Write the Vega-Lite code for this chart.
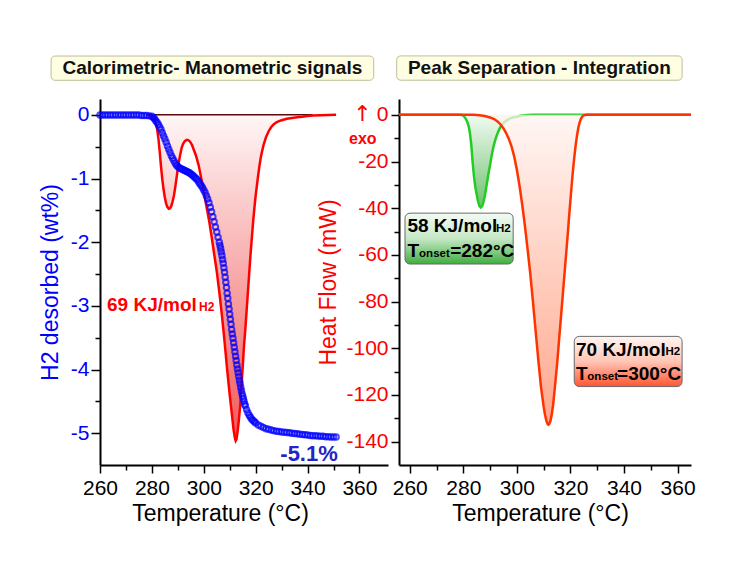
{
  "$schema": "https://vega.github.io/schema/vega-lite/v6.json",
  "background": "white",
  "padding": {"left": 39, "top": 55, "right": 5, "bottom": 5},
  "config": {
    "font": "Liberation Sans",
    "view": {"stroke": null},
    "axis": {
      "grid": false,
      "domainColor": "black",
      "domainWidth": 2,
      "tickColor": "black",
      "tickWidth": 1.5,
      "labelFont": "Liberation Sans",
      "labelFontSize": 21,
      "titleFont": "Liberation Sans",
      "titleFontSize": 23,
      "titleFontWeight": "normal",
      "labelOverlap": false,
      "labelFlush": false
    }
  },
  "datasets": {
    "h2": [
      {"T": 260, "wt": 0}, {"T": 261, "wt": 0}, {"T": 262, "wt": 0}, {"T": 263, "wt": 0}, {"T": 264, "wt": 0},
      {"T": 265, "wt": 0}, {"T": 266, "wt": 0}, {"T": 267, "wt": 0}, {"T": 268, "wt": 0}, {"T": 269, "wt": 0},
      {"T": 270, "wt": 0}, {"T": 271, "wt": 0}, {"T": 272, "wt": 0}, {"T": 273, "wt": 0}, {"T": 274, "wt": 0},
      {"T": 275, "wt": 0}, {"T": 276, "wt": -0.01}, {"T": 277, "wt": -0.01}, {"T": 278, "wt": -0.01}, {"T": 279, "wt": -0.015},
      {"T": 280, "wt": -0.02}, {"T": 280.5, "wt": -0.04}, {"T": 281, "wt": -0.06}, {"T": 281.5, "wt": -0.09}, {"T": 282, "wt": -0.12},
      {"T": 282.5, "wt": -0.15}, {"T": 283, "wt": -0.19}, {"T": 283.5, "wt": -0.23}, {"T": 284, "wt": -0.28}, {"T": 284.5, "wt": -0.33},
      {"T": 285, "wt": -0.38}, {"T": 285.5, "wt": -0.43}, {"T": 286, "wt": -0.49}, {"T": 286.5, "wt": -0.54}, {"T": 287, "wt": -0.59},
      {"T": 287.5, "wt": -0.64}, {"T": 288, "wt": -0.68}, {"T": 288.5, "wt": -0.72}, {"T": 289, "wt": -0.76}, {"T": 289.5, "wt": -0.79},
      {"T": 290, "wt": -0.81}, {"T": 290.5, "wt": -0.83}, {"T": 291, "wt": -0.84}, {"T": 291.5, "wt": -0.85}, {"T": 292, "wt": -0.86},
      {"T": 292.5, "wt": -0.87}, {"T": 293, "wt": -0.88}, {"T": 293.5, "wt": -0.89}, {"T": 294, "wt": -0.9}, {"T": 294.5, "wt": -0.91},
      {"T": 295, "wt": -0.93}, {"T": 295.5, "wt": -0.94}, {"T": 296, "wt": -0.96}, {"T": 296.5, "wt": -0.98}, {"T": 297, "wt": -1.0},
      {"T": 297.5, "wt": -1.02}, {"T": 298, "wt": -1.05}, {"T": 298.5, "wt": -1.08}, {"T": 299, "wt": -1.11}, {"T": 299.5, "wt": -1.14},
      {"T": 300, "wt": -1.18}, {"T": 300.5, "wt": -1.22}, {"T": 301, "wt": -1.27}, {"T": 301.5, "wt": -1.32}, {"T": 302, "wt": -1.38},
      {"T": 302.5, "wt": -1.45}, {"T": 303, "wt": -1.52}, {"T": 303.5, "wt": -1.6}, {"T": 304, "wt": -1.68}, {"T": 304.5, "wt": -1.76},
      {"T": 305, "wt": -1.84}, {"T": 305.5, "wt": -1.92}, {"T": 306, "wt": -2.0}, {"T": 306.25, "wt": -2.05}, {"T": 306.5, "wt": -2.1},
      {"T": 306.75, "wt": -2.155}, {"T": 307, "wt": -2.21}, {"T": 307.25, "wt": -2.27}, {"T": 307.5, "wt": -2.33}, {"T": 307.75, "wt": -2.4},
      {"T": 308, "wt": -2.47}, {"T": 308.25, "wt": -2.55}, {"T": 308.5, "wt": -2.63}, {"T": 308.75, "wt": -2.71}, {"T": 309, "wt": -2.8},
      {"T": 309.25, "wt": -2.88}, {"T": 309.5, "wt": -2.97}, {"T": 309.75, "wt": -3.05}, {"T": 310, "wt": -3.13}, {"T": 310.25, "wt": -3.21},
      {"T": 310.5, "wt": -3.29}, {"T": 310.75, "wt": -3.37}, {"T": 311, "wt": -3.44}, {"T": 311.25, "wt": -3.51}, {"T": 311.5, "wt": -3.58},
      {"T": 311.75, "wt": -3.65}, {"T": 312, "wt": -3.72}, {"T": 312.25, "wt": -3.79}, {"T": 312.5, "wt": -3.86}, {"T": 312.75, "wt": -3.93},
      {"T": 313, "wt": -3.99}, {"T": 313.25, "wt": -4.05}, {"T": 313.5, "wt": -4.11}, {"T": 313.75, "wt": -4.17}, {"T": 314, "wt": -4.22},
      {"T": 314.25, "wt": -4.28}, {"T": 314.5, "wt": -4.33}, {"T": 314.75, "wt": -4.38}, {"T": 315, "wt": -4.42}, {"T": 315.25, "wt": -4.46},
      {"T": 315.5, "wt": -4.5}, {"T": 315.75, "wt": -4.54}, {"T": 316, "wt": -4.57}, {"T": 316.5, "wt": -4.63}, {"T": 317, "wt": -4.68},
      {"T": 317.5, "wt": -4.72}, {"T": 318, "wt": -4.75}, {"T": 318.5, "wt": -4.78}, {"T": 319, "wt": -4.8}, {"T": 319.5, "wt": -4.82},
      {"T": 320, "wt": -4.84}, {"T": 321, "wt": -4.87}, {"T": 322, "wt": -4.89}, {"T": 323, "wt": -4.91}, {"T": 324, "wt": -4.93},
      {"T": 325, "wt": -4.94}, {"T": 326, "wt": -4.95}, {"T": 327, "wt": -4.96}, {"T": 328, "wt": -4.97}, {"T": 329, "wt": -4.975},
      {"T": 330, "wt": -4.98}, {"T": 331, "wt": -4.985}, {"T": 332, "wt": -4.99}, {"T": 333, "wt": -4.995}, {"T": 334, "wt": -5.0},
      {"T": 335, "wt": -5.005}, {"T": 336, "wt": -5.01}, {"T": 337, "wt": -5.015}, {"T": 338, "wt": -5.02}, {"T": 339, "wt": -5.025},
      {"T": 340, "wt": -5.03}, {"T": 341, "wt": -5.035}, {"T": 342, "wt": -5.04}, {"T": 343, "wt": -5.04}, {"T": 344, "wt": -5.045},
      {"T": 345, "wt": -5.05}, {"T": 346, "wt": -5.05}, {"T": 347, "wt": -5.055}, {"T": 348, "wt": -5.055}, {"T": 349, "wt": -5.06},
      {"T": 350, "wt": -5.06}, {"T": 351, "wt": -5.06}
    ],
    "dscLeft": [
      {"T": 278, "mW": 0}, {"T": 280, "mW": -0.3}, {"T": 281, "mW": -1.5}, {"T": 282, "mW": -6}, {"T": 282.5, "mW": -10},
      {"T": 283, "mW": -15.5}, {"T": 283.5, "mW": -22}, {"T": 284, "mW": -27.5}, {"T": 284.5, "mW": -32}, {"T": 285, "mW": -35.5},
      {"T": 285.5, "mW": -38}, {"T": 286, "mW": -39.5}, {"T": 286.5, "mW": -40.2}, {"T": 287, "mW": -40}, {"T": 287.5, "mW": -39},
      {"T": 288, "mW": -37}, {"T": 288.5, "mW": -34.5}, {"T": 289, "mW": -31}, {"T": 289.5, "mW": -27}, {"T": 290, "mW": -23},
      {"T": 290.5, "mW": -19.5}, {"T": 291, "mW": -16.5}, {"T": 291.5, "mW": -14}, {"T": 292, "mW": -12.5}, {"T": 292.5, "mW": -11.5},
      {"T": 293, "mW": -11}, {"T": 293.5, "mW": -10.7}, {"T": 294, "mW": -10.8}, {"T": 294.5, "mW": -11.2}, {"T": 295, "mW": -12},
      {"T": 295.5, "mW": -13}, {"T": 296, "mW": -14.5}, {"T": 297, "mW": -17.5}, {"T": 298, "mW": -21.5}, {"T": 299, "mW": -27},
      {"T": 300, "mW": -33}, {"T": 301, "mW": -39}, {"T": 302, "mW": -45}, {"T": 303, "mW": -52}, {"T": 304, "mW": -59.6},
      {"T": 305, "mW": -67}, {"T": 306, "mW": -76}, {"T": 307, "mW": -86}, {"T": 308, "mW": -97}, {"T": 309, "mW": -109},
      {"T": 310, "mW": -120}, {"T": 311, "mW": -130}, {"T": 311.5, "mW": -135}, {"T": 312, "mW": -138.5}, {"T": 312.3, "mW": -139.6},
      {"T": 312.6, "mW": -139}, {"T": 313, "mW": -136}, {"T": 313.5, "mW": -131}, {"T": 314, "mW": -125}, {"T": 314.5, "mW": -117},
      {"T": 315, "mW": -108}, {"T": 315.5, "mW": -99}, {"T": 316, "mW": -92}, {"T": 316.5, "mW": -84}, {"T": 317, "mW": -76},
      {"T": 317.5, "mW": -68}, {"T": 318, "mW": -60}, {"T": 318.5, "mW": -53}, {"T": 319, "mW": -46}, {"T": 319.5, "mW": -40},
      {"T": 320, "mW": -34.5}, {"T": 320.5, "mW": -30}, {"T": 321, "mW": -25.5}, {"T": 321.5, "mW": -21.5}, {"T": 322, "mW": -18},
      {"T": 322.5, "mW": -15.5}, {"T": 323, "mW": -13}, {"T": 324, "mW": -9.5}, {"T": 325, "mW": -7}, {"T": 326, "mW": -5.2},
      {"T": 327, "mW": -4}, {"T": 328, "mW": -3.2}, {"T": 329, "mW": -2.7}, {"T": 330, "mW": -2.3}, {"T": 332, "mW": -1.7},
      {"T": 334, "mW": -1.3}, {"T": 336, "mW": -1}, {"T": 338, "mW": -0.8}, {"T": 340, "mW": -0.5}, {"T": 342, "mW": -0.3},
      {"T": 345, "mW": -0.15}, {"T": 351, "mW": 0}
    ],
    "green": [
      {"T": 256, "mW": 0}, {"T": 279, "mW": 0}, {"T": 280, "mW": -0.3}, {"T": 281, "mW": -1.8}, {"T": 281.5, "mW": -3},
      {"T": 282, "mW": -4.8}, {"T": 282.5, "mW": -8}, {"T": 283, "mW": -13}, {"T": 283.5, "mW": -20.5}, {"T": 284, "mW": -26.5},
      {"T": 284.5, "mW": -31}, {"T": 285, "mW": -34}, {"T": 285.5, "mW": -37}, {"T": 286, "mW": -39}, {"T": 286.5, "mW": -39.7},
      {"T": 287, "mW": -39.2}, {"T": 287.5, "mW": -37.5}, {"T": 288, "mW": -35}, {"T": 288.5, "mW": -31.5}, {"T": 289, "mW": -28},
      {"T": 289.5, "mW": -24.5}, {"T": 290, "mW": -21.5}, {"T": 290.5, "mW": -18}, {"T": 291, "mW": -15}, {"T": 291.5, "mW": -12.5},
      {"T": 292, "mW": -10.5}, {"T": 292.5, "mW": -8.8}, {"T": 293, "mW": -7.3}, {"T": 293.5, "mW": -6}, {"T": 294, "mW": -5},
      {"T": 295, "mW": -3.5}, {"T": 296, "mW": -2.5}, {"T": 297, "mW": -1.8}, {"T": 298, "mW": -1.3}, {"T": 299, "mW": -1},
      {"T": 300, "mW": -0.8}, {"T": 301, "mW": -0.5}, {"T": 302, "mW": -0.3}, {"T": 304, "mW": -0.1}, {"T": 306, "mW": 0},
      {"T": 365, "mW": 0}
    ],
    "orange": [
      {"T": 256, "mW": 0}, {"T": 284, "mW": 0}, {"T": 286, "mW": -0.2}, {"T": 288, "mW": -0.5}, {"T": 290, "mW": -1.1},
      {"T": 291.5, "mW": -1.8}, {"T": 293, "mW": -3}, {"T": 294, "mW": -4.2}, {"T": 295, "mW": -5.8}, {"T": 296, "mW": -7.8},
      {"T": 297, "mW": -10.3}, {"T": 298, "mW": -13.5}, {"T": 299, "mW": -17.8}, {"T": 300, "mW": -23.5}, {"T": 301, "mW": -30.5},
      {"T": 302, "mW": -38.5}, {"T": 303, "mW": -47.5}, {"T": 304, "mW": -57.5}, {"T": 305, "mW": -68}, {"T": 306, "mW": -80},
      {"T": 307, "mW": -92.5}, {"T": 308, "mW": -105}, {"T": 309, "mW": -116.5}, {"T": 310, "mW": -125}, {"T": 310.5, "mW": -128.5},
      {"T": 311, "mW": -131}, {"T": 311.5, "mW": -132.5}, {"T": 311.8, "mW": -132.7}, {"T": 312, "mW": -132.5}, {"T": 312.5, "mW": -131.3},
      {"T": 313, "mW": -128.5}, {"T": 313.5, "mW": -124.5}, {"T": 314, "mW": -119}, {"T": 314.5, "mW": -113}, {"T": 315, "mW": -107},
      {"T": 315.5, "mW": -100}, {"T": 316, "mW": -93}, {"T": 316.5, "mW": -86}, {"T": 317, "mW": -79}, {"T": 317.5, "mW": -72},
      {"T": 318, "mW": -65}, {"T": 318.5, "mW": -58}, {"T": 319, "mW": -51}, {"T": 319.5, "mW": -43.5}, {"T": 320, "mW": -36.5},
      {"T": 320.5, "mW": -29.5}, {"T": 321, "mW": -23}, {"T": 321.5, "mW": -17.5}, {"T": 322, "mW": -12.5}, {"T": 322.5, "mW": -8.5},
      {"T": 323, "mW": -5.2}, {"T": 323.5, "mW": -3}, {"T": 324, "mW": -1.5}, {"T": 324.5, "mW": -0.6}, {"T": 325, "mW": -0.2},
      {"T": 326, "mW": 0}, {"T": 365, "mW": 0}
    ],
    "boxBig": [
      {"T": 259.14, "mW": -47.5, "label": "58 KJ/mol"},
      {"T": 259.14, "mW": -58.2, "label": "T"},
      {"T": 275.1, "mW": -58.2, "label": "=282°C"},
      {"T": 322.06, "mW": -100.7, "label": "70 KJ/mol"},
      {"T": 322.06, "mW": -111.0, "label": "T"},
      {"T": 337.4, "mW": -111.0, "label": "=300°C"}
    ],
    "boxSmall": [
      {"T": 292.2, "mW": -48.9, "label": "H2"},
      {"T": 263.5, "mW": -59.6, "label": "onset"},
      {"T": 355.5, "mW": -101.8, "label": "H2"},
      {"T": 326.3, "mW": -112.5, "label": "onset"}
    ]
  },
  "hconcat": [
    {
      "width": 288,
      "height": 366,
      "encoding": {
        "x": {
          "field": "T",
          "type": "quantitative",
          "scale": {"domain": [260, 371], "nice": false, "zero": false},
          "axis": {
            "values": [260, 270, 280, 290, 300, 310, 320, 330, 340, 350, 360],
            "labelExpr": "datum.value % 20 === 0 ? '' + datum.value : ''",
            "tickSize": {"condition": {"test": "datum.value % 20 === 0", "value": 8}, "value": 5},
            "labelColor": "black",
            "labelPadding": 4,
            "title": "Temperature (°C)",
            "titleColor": "black",
            "titlePadding": 4,
            "titleX": 120
          }
        }
      },
      "layer": [
        {
          "data": {"name": "dscLeft"},
          "mark": {
            "type": "area",
            "fill": {
              "gradient": "linear", "x1": 0, "y1": 0, "x2": 0, "y2": 1,
              "stops": [{"offset": 0, "color": "#fff6f6"}, {"offset": 1, "color": "#f05a5a"}]
            }
          },
          "encoding": {
            "y": {"field": "mW", "type": "quantitative", "scale": {"domain": [-150, 6.8], "nice": false}, "axis": null},
            "y2": {"datum": 0}
          }
        },
        {
          "data": {"values": [{"T": 281, "T2": 342, "mW": 0}]},
          "mark": {"type": "rule", "color": "#5a0a0a", "strokeWidth": 1.5},
          "encoding": {
            "x2": {"field": "T2"},
            "y": {"field": "mW", "type": "quantitative", "scale": {"domain": [-150, 6.8], "nice": false}, "axis": null}
          }
        },
        {
          "data": {"name": "dscLeft"},
          "mark": {"type": "line", "color": "#ff0000", "strokeWidth": 2.5},
          "encoding": {
            "y": {"field": "mW", "type": "quantitative", "scale": {"domain": [-150, 6.8], "nice": false}, "axis": null}
          }
        },
        {
          "data": {"name": "h2"},
          "mark": {"type": "point", "filled": false, "color": "#0000ff", "strokeWidth": 2, "size": 30},
          "encoding": {
            "y": {
              "field": "wt",
              "type": "quantitative",
              "scale": {"domain": [-5.5, 0.25], "nice": false, "zero": false},
              "axis": {
                "orient": "left",
                "values": [0, -0.5, -1, -1.5, -2, -2.5, -3, -3.5, -4, -4.5, -5],
                "labelExpr": "datum.value % 1 === 0 ? '' + datum.value : ''",
                "tickSize": {"condition": {"test": "datum.value % 1 === 0", "value": 9}, "value": 5},
                "labelColor": "#0000ff",
                "labelPadding": 2,
                "title": "H2 desorbed (wt%)",
                "titleColor": "#0000ff",
                "titlePadding": 8
              }
            }
          }
        },
        {
          "data": {"values": [{"T": 241.15, "T2": 365.5, "wt": 0.925, "wt2": 0.544}]},
          "mark": {"type": "rect", "fill": "#fffde2", "stroke": "#bdbd9a", "strokeWidth": 1, "cornerRadius": 4, "clip": false},
          "encoding": {
            "x2": {"field": "T2"},
            "y": {"field": "wt", "type": "quantitative", "scale": {"domain": [-5.5, 0.25], "nice": false, "zero": false}, "axis": null},
            "y2": {"field": "wt2"}
          }
        },
        {
          "data": {"values": [{"T": 303.3, "wt": 0.732, "label": "Calorimetric- Manometric signals"}]},
          "mark": {"type": "text", "fontWeight": "bold", "fontSize": 19, "color": "#111111", "align": "center", "baseline": "middle", "clip": false},
          "encoding": {
            "y": {"field": "wt", "type": "quantitative", "scale": {"domain": [-5.5, 0.25], "nice": false, "zero": false}, "axis": null},
            "text": {"field": "label"}
          }
        },
        {
          "data": {"values": [{"T": 262.7, "wt": -2.99, "label": "69 KJ/mol"}]},
          "mark": {"type": "text", "fontWeight": "bold", "fontSize": 19, "color": "#ff0000", "align": "left", "baseline": "middle"},
          "encoding": {
            "y": {"field": "wt", "type": "quantitative", "scale": {"domain": [-5.5, 0.25], "nice": false, "zero": false}, "axis": null},
            "text": {"field": "label"}
          }
        },
        {
          "data": {"values": [{"T": 298.2, "wt": -3.02, "label": "H2"}]},
          "mark": {"type": "text", "fontWeight": "bold", "fontSize": 12, "color": "#ff0000", "align": "left", "baseline": "middle"},
          "encoding": {
            "y": {"field": "wt", "type": "quantitative", "scale": {"domain": [-5.5, 0.25], "nice": false, "zero": false}, "axis": null},
            "text": {"field": "label"}
          }
        },
        {
          "data": {"values": [{"T": 351.65, "wt": -5.32, "label": "-5.1%"}]},
          "mark": {"type": "text", "fontWeight": "bold", "fontSize": 22, "color": "#2323c8", "align": "right", "baseline": "middle"},
          "encoding": {
            "y": {"field": "wt", "type": "quantitative", "scale": {"domain": [-5.5, 0.25], "nice": false, "zero": false}, "axis": null},
            "text": {"field": "label"}
          }
        }
      ],
      "resolve": {"scale": {"y": "independent"}}
    },
    {
      "width": 292,
      "height": 366,
      "encoding": {
        "x": {
          "field": "T",
          "type": "quantitative",
          "scale": {"domain": [256, 365], "nice": false, "zero": false},
          "axis": {
            "values": [260, 270, 280, 290, 300, 310, 320, 330, 340, 350, 360],
            "labelExpr": "datum.value % 20 === 0 ? '' + datum.value : ''",
            "tickSize": {"condition": {"test": "datum.value % 20 === 0", "value": 8}, "value": 5},
            "labelColor": "black",
            "labelPadding": 4,
            "title": "Temperature (°C)",
            "titleColor": "black",
            "titlePadding": 4,
            "titleX": 141
          }
        },
        "y": {
          "field": "mW",
          "type": "quantitative",
          "scale": {"domain": [-150, 6.8], "nice": false},
          "axis": {
            "values": [0, -10, -20, -30, -40, -50, -60, -70, -80, -90, -100, -110, -120, -130, -140],
            "labelExpr": "datum.value % 20 === 0 ? '' + datum.value : ''",
            "tickSize": {"condition": {"test": "datum.value % 20 === 0", "value": 8}, "value": 5},
            "labelColor": "#ff0000",
            "labelPadding": 3,
            "title": "Heat Flow (mW)",
            "titleColor": "#ff0000",
            "titlePadding": 5
          }
        }
      },
      "layer": [
        {
          "data": {"name": "green"},
          "mark": {
            "type": "area",
            "fill": {
              "gradient": "linear", "x1": 0, "y1": 0, "x2": 0, "y2": 1,
              "stops": [{"offset": 0, "color": "#f2faf2"}, {"offset": 1, "color": "#6fc26f"}]
            }
          },
          "encoding": {"y2": {"datum": 0}}
        },
        {
          "data": {"name": "green"},
          "mark": {"type": "line", "color": "#22cc22", "strokeWidth": 2.5},
          "encoding": {}
        },
        {
          "data": {"name": "orange"},
          "mark": {
            "type": "area",
            "fillOpacity": 0.75,
            "fill": {
              "gradient": "linear", "x1": 0, "y1": 0, "x2": 0, "y2": 1,
              "stops": [{"offset": 0, "color": "#fff4f1"}, {"offset": 1, "color": "#ff8a66"}]
            }
          },
          "encoding": {"y2": {"datum": 0}}
        },
        {
          "data": {"name": "orange"},
          "mark": {"type": "line", "color": "#ff3300", "strokeWidth": 2.5},
          "encoding": {}
        },
        {
          "data": {"values": [{"T": 255.14, "T2": 361.68, "mW": 25.26, "mW2": 14.85}]},
          "mark": {"type": "rect", "fill": "#fffde2", "stroke": "#bdbd9a", "strokeWidth": 1, "cornerRadius": 4, "clip": false},
          "encoding": {"x2": {"field": "T2"}, "y2": {"field": "mW2"}}
        },
        {
          "data": {"values": [{"T": 308.4, "mW": 19.99, "label": "Peak Separation - Integration"}]},
          "mark": {"type": "text", "fontWeight": "bold", "fontSize": 19, "color": "#111111", "align": "center", "baseline": "middle", "clip": false},
          "encoding": {"text": {"field": "label"}}
        },
        {
          "data": {"values": [{"T": 258.24, "T2": 298.62, "mW": -42.1, "mW2": -63.9}]},
          "mark": {
            "type": "rect", "stroke": "#6a6a6a", "strokeWidth": 1, "cornerRadius": 5,
            "fill": {
              "gradient": "linear", "x1": 0, "y1": 0, "x2": 0, "y2": 1,
              "stops": [{"offset": 0, "color": "#f4fbf4"}, {"offset": 0.5, "color": "#c6e8c6"}, {"offset": 1, "color": "#3fae3f"}]
            }
          },
          "encoding": {"x2": {"field": "T2"}, "y2": {"field": "mW2"}}
        },
        {
          "data": {"values": [{"T": 321.42, "T2": 361.68, "mW": -94.9, "mW2": -116.4}]},
          "mark": {
            "type": "rect", "stroke": "#6a6a6a", "strokeWidth": 1, "cornerRadius": 5,
            "fill": {
              "gradient": "linear", "x1": 0, "y1": 0, "x2": 0, "y2": 1,
              "stops": [{"offset": 0, "color": "#fff6f3"}, {"offset": 0.5, "color": "#ffc6b6"}, {"offset": 1, "color": "#ff5530"}]
            }
          },
          "encoding": {"x2": {"field": "T2"}, "y2": {"field": "mW2"}}
        },
        {
          "data": {"name": "boxBig"},
          "mark": {"type": "text", "fontWeight": "bold", "fontSize": 19, "color": "#000000", "align": "left", "baseline": "middle"},
          "encoding": {"text": {"field": "label"}}
        },
        {
          "data": {"name": "boxSmall"},
          "mark": {"type": "text", "fontWeight": "bold", "fontSize": 11.5, "color": "#000000", "align": "left", "baseline": "middle"},
          "encoding": {"text": {"field": "label"}}
        },
        {
          "data": {"values": [{"T": 242.5, "mW": -10.2, "label": "exo"}]},
          "mark": {"type": "text", "fontSize": 16, "fontWeight": "bold", "color": "#ff0000", "align": "center", "baseline": "middle", "clip": false},
          "encoding": {"text": {"field": "label"}}
        },
        {
          "data": {"values": [{"T": 242.4, "mW": 0.5, "label": "↑"}]},
          "mark": {"type": "text", "font": "DejaVu Sans", "fontSize": 22, "color": "#ff0000", "align": "center", "baseline": "middle", "clip": false},
          "encoding": {"text": {"field": "label"}}
        }
      ]
    }
  ],
  "spacing": 11,
  "bounds": "flush"
}
